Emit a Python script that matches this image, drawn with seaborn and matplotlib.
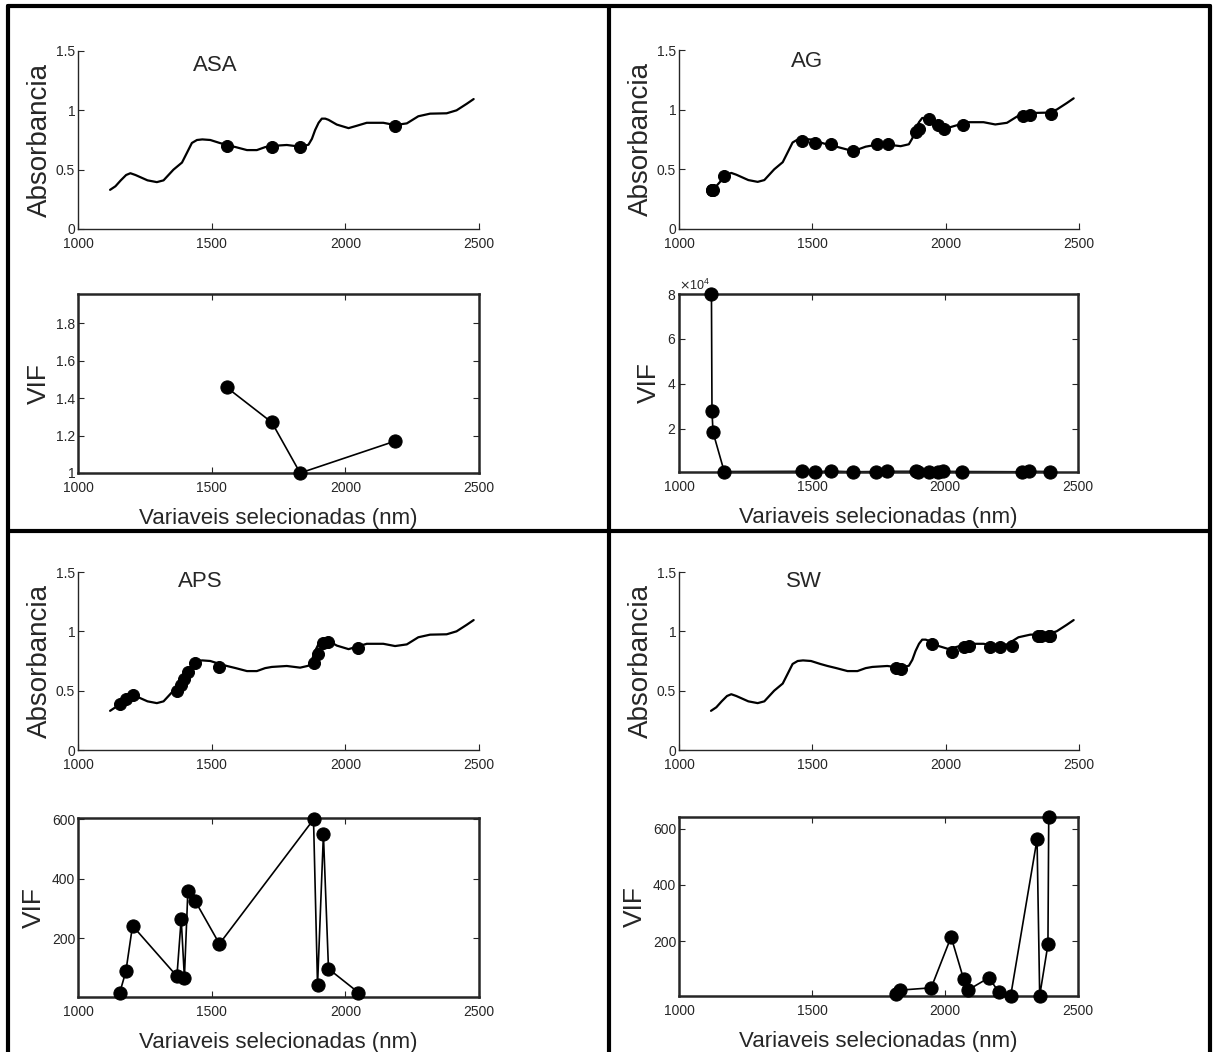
import numpy as np
import pandas as pd
import seaborn as sns
import matplotlib.pyplot as plt
from matplotlib.lines import Line2D
from matplotlib.ticker import FuncFormatter

# espectro medio (mesmo nos 4 paineis)
comp_onda = [1120, 1140, 1160, 1180, 1196, 1215, 1235, 1260, 1295, 1320, 1357, 1389,
             1407, 1426, 1445, 1465, 1495, 1530, 1557, 1590, 1632, 1669, 1700, 1725,
             1781, 1831, 1862, 1875, 1887, 1900, 1912, 1925, 1937, 1968, 2012, 2043,
             2080, 2142, 2186, 2230, 2273, 2317, 2379, 2416, 2454, 2480]
absorb = [0.33, 0.36, 0.41, 0.455, 0.47, 0.455, 0.435, 0.41, 0.395, 0.41, 0.50, 0.56,
          0.64, 0.725, 0.75, 0.755, 0.75, 0.725, 0.708, 0.69, 0.665, 0.665, 0.69, 0.70,
          0.708, 0.694, 0.71, 0.76, 0.834, 0.895, 0.93, 0.93, 0.92, 0.88, 0.85, 0.87,
          0.895, 0.895, 0.876, 0.89, 0.95, 0.972, 0.975, 1.0, 1.055, 1.095]

# variaveis selecionadas
asa_wl = [1556, 1725, 1831, 2186]
asa_abs = [0.70, 0.695, 0.695, 0.87]
asa_vif = [1.457, 1.27, 1.0, 1.17]

ag_wl = [1122, 1124, 1128, 1170, 1463, 1510, 1571, 1654, 1741, 1782, 1890, 1900,
         1938, 1973, 1994, 2065, 2290, 2316, 2396]
ag_abs = [0.33, 0.33, 0.33, 0.44, 0.74, 0.72, 0.71, 0.65, 0.71, 0.71, 0.81, 0.84,
          0.92, 0.87, 0.84, 0.875, 0.945, 0.956, 0.965]
ag_vif = [80000, 27700, 18400, 900, 1000, 850, 1100, 800, 900, 1000, 1000, 900,
          800, 850, 1000, 900, 800, 1000, 900]

aps_wl = [1156, 1179, 1204, 1370, 1386, 1398, 1411, 1438, 1529, 1881, 1896, 1918,
          1937, 2049]
aps_abs = [0.39, 0.43, 0.46, 0.50, 0.55, 0.60, 0.66, 0.73, 0.70, 0.73, 0.81, 0.90,
           0.91, 0.86]
aps_vif = [16, 88, 242, 72, 265, 67, 360, 326, 181, 600, 41, 550, 97, 17]

sw_wl = [1815, 1832, 1948, 2023, 2070, 2086, 2165, 2203, 2247, 2346, 2356, 2387, 2390]
sw_abs = [0.69, 0.68, 0.89, 0.83, 0.87, 0.88, 0.87, 0.87, 0.88, 0.96, 0.96, 0.96, 0.96]
sw_vif = [12, 26, 34, 215, 65, 26, 70, 18, 6, 562, 6, 188, 641]

sns.set_style('ticks')
plt.rcParams['font.family'] = ['Liberation Sans', 'DejaVu Sans']
plt.rcParams['xtick.direction'] = 'in'
plt.rcParams['ytick.direction'] = 'in'

W, H = 1213, 1052
fig = plt.figure(figsize=(W / 100, H / 100), dpi=100)


def px_axes(l, r, t, b):
    return fig.add_axes([l / W, 1 - b / H, (r - l) / W, (b - t) / H])


fmt = FuncFormatter(lambda v, p: '%g' % v)

paineis = [
    ('ASA', asa_wl, asa_abs, asa_vif, (78, 479, 51, 229), (78, 479, 294, 473), (1512, 1.38)),
    ('AG', ag_wl, ag_abs, ag_vif, (679, 1079, 50, 229), (679, 1078, 294, 472), (1480, 1.40)),
    ('APS', aps_wl, aps_abs, aps_vif, (78, 479, 572, 750), (78, 479, 818, 997), (1456, 1.42)),
    ('SW', sw_wl, sw_abs, sw_vif, (679, 1079, 572, 750), (679, 1078, 817, 996), (1469, 1.42)),
]
vif_lims = {'ASA': (1, 1.955), 'AG': (700, 80000), 'APS': (2, 605), 'SW': (5, 641)}
vif_ticks = {'ASA': [1, 1.2, 1.4, 1.6, 1.8], 'AG': [20000, 40000, 60000, 80000],
             'APS': [200, 400, 600], 'SW': [200, 400, 600]}

for nome, wl, ab, vif, pos_a, pos_v, pos_t in paineis:
    # espectro
    ax = px_axes(*pos_a)
    sns.lineplot(x=comp_onda, y=absorb, ax=ax, color='k', lw=1.6, estimator=None)
    sns.scatterplot(x=wl, y=ab, ax=ax, color='k', s=75, edgecolor='k', zorder=3)
    ax.set_xlim(1000, 2500)
    ax.set_ylim(0, 1.5)
    ax.set_xticks([1000, 1500, 2000, 2500])
    ax.set_yticks([0, 0.5, 1, 1.5])
    ax.yaxis.set_major_formatter(fmt)
    sns.despine(ax=ax)
    for s in ['left', 'bottom']:
        ax.spines[s].set_linewidth(1.0)
    ax.tick_params(labelsize=10, length=4, width=0.8, pad=2)
    ax.tick_params(axis='x', pad=6)
    ax.set_ylabel('Absorbancia', fontsize=20, labelpad=2)
    ax.text(pos_t[0], pos_t[1], nome, fontsize=16, ha='center', va='center')

    # VIF
    axv = px_axes(*pos_v)
    sns.lineplot(x=wl, y=vif, ax=axv, color='k', lw=1.2, estimator=None, sort=False)
    sns.scatterplot(x=wl, y=vif, ax=axv, color='k', s=90, edgecolor='k', zorder=3,
                    clip_on=False)
    axv.set_xlim(1000, 2500)
    axv.set_ylim(*vif_lims[nome])
    axv.set_xticks([1000, 1500, 2000, 2500])
    axv.set_yticks(vif_ticks[nome])
    if nome == 'AG':
        axv.ticklabel_format(axis='y', style='sci', scilimits=(0, 0), useMathText=True)
        axv.yaxis.get_offset_text().set_fontsize(9)
    else:
        axv.yaxis.set_major_formatter(fmt)
    for s in axv.spines.values():
        s.set_linewidth(1.8)
    axv.tick_params(labelsize=10, length=4, width=0.8, pad=2,
                    top=True, right=True)
    axv.tick_params(axis='x', pad=6)
    axv.set_ylabel('VIF', fontsize=19, labelpad=4)
    axv.set_xlabel('Variaveis selecionadas (nm)', fontsize=16, labelpad=9)

# molduras dos quadros
lw = 3
for x0, y0, x1, y1 in [(8, 6, 1210, 6), (8, 6, 8, 1052), (1210, 6, 1210, 1052),
                       (609, 6, 609, 1052), (8, 531, 1210, 531)]:
    fig.add_artist(Line2D([x0 / W, x1 / W], [1 - y0 / H, 1 - y1 / H], color='k', lw=lw))

plt.savefig('out.png', dpi=100)
